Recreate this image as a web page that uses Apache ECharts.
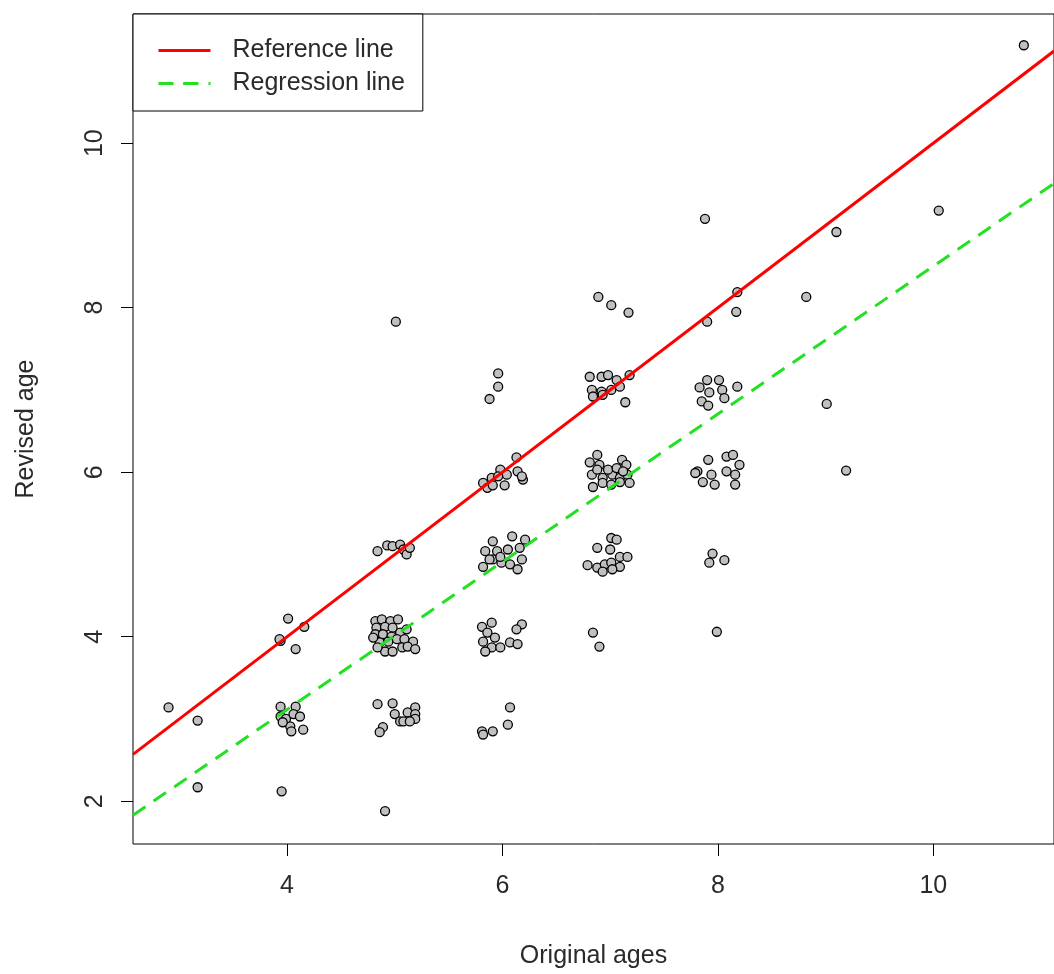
<!DOCTYPE html>
<html>
<head>
<meta charset="utf-8">
<script src="https://cdn.jsdelivr.net/npm/echarts@6/dist/echarts.min.js"></script>
<style>
html,body{margin:0;padding:0;background:#fff;}
#chart{width:1054px;height:974px;}
</style>
</head>
<body>
<div id="chart"></div>
<script>
// Scatter data: original ages (x, jittered) and revised ages (y, jittered)
const origAges = [
  2.90,3.17,3.17,3.95,4.91,
  4.01,4.16,3.94,3.93,4.08,
  3.94,4.08,3.94,3.99,4.06,4.12,4.03,4.15,3.96,4.04,
  4.84,4.93,4.98,5.05,5.08,5.11,5.14,
  4.82,4.88,4.96,5.03,4.83,4.91,4.98,4.82,4.89,4.97,5.05,5.11,4.86,4.94,5.02,5.09,5.17,4.91,4.98,5.07,5.12,5.19,4.84,4.80,
  4.84,4.98,5.00,5.05,5.08,5.12,5.19,5.19,5.19,5.14,4.89,4.86,
  5.01,
  5.96,5.96,5.88,
  6.13,5.98,6.04,6.14,6.19,5.82,5.90,5.96,6.02,5.86,5.91,6.18,
  5.91,6.09,6.21,5.84,5.95,6.05,6.16,5.82,5.91,5.99,6.07,6.14,6.18,5.98,5.88,
  5.81,5.90,5.86,5.82,5.93,5.90,5.84,5.98,6.07,6.14,6.18,6.13,
  6.07,6.05,5.91,5.81,5.82,
  6.89,7.01,7.17,
  6.81,6.92,6.98,7.06,7.18,6.83,6.92,7.01,6.84,6.93,7.14,7.09,
  6.88,6.81,6.90,7.11,7.15,6.83,6.93,7.02,7.09,7.16,6.84,6.93,7.01,7.09,7.18,6.88,6.98,7.06,7.12,
  7.01,7.06,6.88,7.00,7.09,7.16,6.79,6.88,6.95,7.01,7.09,7.02,6.93,
  6.84,6.90,
  7.88,10.05,9.10,8.18,8.82,8.17,7.90,9.01,9.19,10.84,
  7.90,8.01,7.83,7.92,8.04,8.18,8.06,7.85,7.91,
  7.91,8.08,8.14,8.20,7.81,7.94,8.08,8.16,7.86,7.97,8.16,7.79,
  7.95,7.92,8.06,
  7.99
];
const revisedAges = [
  3.14,2.98,2.17,2.12,1.88,
  4.22,4.12,3.95,3.97,3.85,
  3.15,3.15,3.03,3.00,3.06,3.03,2.91,2.87,2.96,2.85,
  5.04,5.11,5.10,5.12,5.06,5.00,5.08,
  4.19,4.21,4.19,4.21,4.11,4.12,4.11,4.03,4.03,4.00,4.05,4.09,3.93,3.94,3.97,3.97,3.94,3.82,3.82,3.87,3.88,3.85,3.87,3.99,
  3.18,3.19,3.06,2.97,2.97,3.08,3.14,3.06,3.00,2.97,2.90,2.84,
  7.83,
  7.20,7.04,6.89,
  6.18,6.03,5.97,6.01,5.91,5.87,5.93,5.95,5.84,5.81,5.84,5.95,
  5.16,5.22,5.18,5.04,5.04,5.06,5.08,4.85,4.94,4.90,4.88,4.82,4.94,4.97,4.94,
  4.12,4.17,4.05,3.94,3.99,3.87,3.82,3.87,3.93,3.91,4.15,4.09,
  3.14,2.93,2.85,2.85,2.81,
  8.13,8.03,7.94,
  7.16,7.16,7.18,7.12,7.18,7.00,6.98,7.00,6.92,6.94,6.85,7.04,
  6.21,6.12,6.09,6.15,6.09,5.97,5.93,5.97,5.93,5.97,5.82,5.87,5.85,5.88,5.87,6.03,6.03,6.05,6.01,
  5.20,5.18,5.08,5.06,4.97,4.97,4.87,4.84,4.88,4.90,4.85,4.82,4.79,
  4.05,3.88,
  9.08,9.18,8.92,8.19,8.13,7.95,7.83,6.83,6.02,11.19,
  7.12,7.12,7.03,6.97,7.00,7.04,6.90,6.86,6.81,
  6.15,6.19,6.21,6.09,6.01,5.97,6.01,5.97,5.88,5.85,5.85,5.99,
  5.01,4.90,4.93,
  4.06
];
// Lines (endpoints in data units, at the plot's x limits)
const referenceLineX = [2.57, 11.12];
const referenceLineY = [2.57, 11.12];
const regressionLineX = [2.57, 11.12];
const regressionLineY = [1.83, 9.51];
// Tick labels
const xTicks = [4, 6, 8, 10];
const yTicks = [2, 4, 6, 8, 10];

const points = origAges.map((x, i) => [x, revisedAges[i]]);
const refLine = referenceLineX.map((x, i) => [x, referenceLineY[i]]);
const regLine = regressionLineX.map((x, i) => [x, regressionLineY[i]]);

const FONT = 'Liberation Sans, Arial, sans-serif';
const TXT = '#2a2a2a';
const FS = 25;

const chart = echarts.init(document.getElementById('chart'), null, {renderer: 'canvas'});
chart.setOption({
  animation: false,
  backgroundColor: '#fff',
  grid: {
    left: 133, top: 14, right: -1, bottom: 129,
    show: true, borderColor: '#000', borderWidth: 1, backgroundColor: 'transparent'
  },
  legend: {
    left: 133, top: 14, orient: 'vertical',
    backgroundColor: '#fff', borderColor: '#000', borderWidth: 1,
    padding: [24, 18, 15, 24],
    itemWidth: 52, itemHeight: 4, itemGap: 8,
    lineStyle: {width: 3},
    textStyle: {fontFamily: FONT, fontSize: FS, color: TXT, padding: [0, 0, 0, 17]},
    data: ['Reference line', 'Regression line']
  },
  xAxis: {
    type: 'value', min: 2.57, max: 11.12,
    name: 'Original ages', nameLocation: 'middle', nameGap: 100,
    nameTextStyle: {fontFamily: FONT, fontSize: FS, color: TXT},
    axisLine: {show: false},
    axisTick: {show: true, length: 12, lineStyle: {color: '#000', width: 1}, customValues: xTicks},
    axisLabel: {customValues: xTicks, fontFamily: FONT, fontSize: FS, color: TXT, margin: 30},
    splitLine: {show: false}
  },
  yAxis: {
    type: 'value', min: 1.48, max: 11.57,
    name: 'Revised age', nameLocation: 'middle', nameGap: 94, nameRotate: 90,
    nameTextStyle: {fontFamily: FONT, fontSize: FS, color: TXT},
    axisLine: {show: false},
    axisTick: {show: true, length: 12, lineStyle: {color: '#000', width: 1}, customValues: yTicks},
    axisLabel: {customValues: yTicks, fontFamily: FONT, fontSize: FS, color: TXT, margin: 25, rotate: 90},
    splitLine: {show: false}
  },
  series: [
    {
      type: 'scatter', name: 'points', data: points,
      symbol: 'circle', symbolSize: 9,
      itemStyle: {color: '#c0c0c0', borderColor: '#000', borderWidth: 1.3, opacity: 1},
      emphasis: {disabled: true}
    },
    {
      type: 'line', name: 'Reference line', data: refLine,
      showSymbol: false, symbol: 'none', clip: true,
      lineStyle: {color: '#ff0000', width: 3, type: 'solid'},
      itemStyle: {color: '#ff0000'}
    },
    {
      type: 'line', name: 'Regression line', data: regLine,
      showSymbol: false, symbol: 'none', clip: true,
      lineStyle: {color: '#22e022', width: 3, type: [15, 10]},
      itemStyle: {color: '#22e022'}
    }
  ]
});
</script>
</body>
</html>
